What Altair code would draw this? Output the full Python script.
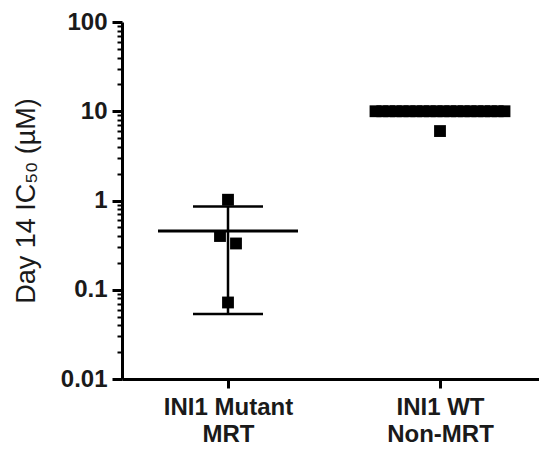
import json
import altair as alt
import pandas as pd

# ---------------- data ----------------
GROUPS = ["INI1 Mutant MRT", "INI1 WT Non-MRT"]
GROUP_LABELS = [["INI1 Mutant", "MRT"], ["INI1 WT", "Non-MRT"]]
MUTANT_IC50 = [1.02, 0.40, 0.33, 0.072]
WT_IC50 = [10, 10, 10, 10, 10, 10, 10, 10, 10, 10,
           10, 10, 10, 10, 10, 10, 10, 10, 10, 10, 6.0]
MAJOR_TICKS = [0.01, 0.1, 1, 10, 100]
MINOR_MULTIPLIERS = [2, 3, 4, 5, 6, 7, 8, 9]
Y_TITLE = "Day 14 IC\u2085\u2080 (\u00b5M)"

rows = []
for gi, vals in enumerate([MUTANT_IC50, WT_IC50]):
    for k, v in enumerate(vals):
        rows.append({"group": GROUPS[gi], "gidx": gi + 1, "order": k, "ic50": v})
df = pd.DataFrame(rows)

y_values = list(MAJOR_TICKS)
for t in MAJOR_TICKS[:-1]:
    for m in MINOR_MULTIPLIERS:
        y_values.append(round(t * m, 6))
y_values.sort()

# ---------------- layout ----------------
W, H = 417, 357
UNIT = 212.0            # px per x unit
X_MAX = 0.5 + W / UNIT
MEAN_HALF = 70 / UNIT
CAP_HALF = 35 / UNIT
FONT = "Liberation Sans"
TXT = "#1a1a1a"

is_major = "abs(log(datum.value)/LN10 - round(log(datum.value)/LN10)) < 0.001"
x_label_expr = (f"datum.value == 1 ? {json.dumps(GROUP_LABELS[0])} : "
                f"(datum.value == 2 ? {json.dumps(GROUP_LABELS[1])} : '')")

xscale = alt.Scale(domain=[0.5, X_MAX], nice=False, zero=False)
yscale = alt.Scale(type="log", domain=[0.01, 100], nice=False)

xaxis = alt.Axis(values=[1, 2], labelExpr=x_label_expr, grid=False,
                 domainWidth=3, domainColor="black", tickColor="black",
                 tickWidth=3, tickSize=9, labelFont=FONT, labelFontSize=24,
                 labelFontWeight="bold", labelColor=TXT, labelPadding=7,
                 labelLineHeight=27, labelOverlap=False, title="")
yaxis = alt.Axis(values=y_values, labelExpr=f"({is_major}) ? datum.label : ''",
                 format="~g", grid=False, domainWidth=3, domainColor="black",
                 tickColor="black",
                 tickSize={"condition": {"test": is_major, "value": 10}, "value": 5},
                 tickWidth={"condition": {"test": is_major, "value": 3}, "value": 2},
                 labelFont=FONT, labelFontSize=24, labelFontWeight="bold",
                 labelColor=TXT, labelPadding=5, labelOverlap=False,
                 title=Y_TITLE, titleFont=FONT, titleFontSize=27,
                 titleFontWeight="normal", titleColor=TXT, titlePadding=20)

base = alt.Chart(df)

points = base.transform_calculate(
    bin="round(log(datum.ic50)/LN10*5)"
).transform_window(
    rank="row_number()", groupby=["group", "bin"], sort=[alt.SortField("order")]
).transform_joinaggregate(
    n="count()", groupby=["group", "bin"]
).transform_calculate(
    pos=f"datum.gidx + (datum.rank - (datum.n + 1) / 2) * min(16, 129 / max(datum.n - 1, 1)) / {UNIT}"
).mark_point(shape="square", filled=True, size=140, color="black", opacity=1).encode(
    x=alt.X("pos:Q", scale=xscale, axis=xaxis, title=""),
    y=alt.Y("ic50:Q", scale=yscale, axis=yaxis, title=Y_TITLE),
)

stats = base.transform_aggregate(
    mean="mean(ic50)", sd="stdev(ic50)", groupby=["group", "gidx"]
).transform_calculate(
    lo="datum.mean - datum.sd",
    hi="datum.mean + datum.sd",
    mx1=f"datum.gidx - {MEAN_HALF}",
    mx2=f"datum.gidx + {MEAN_HALF}",
    cx1=f"datum.gidx - {CAP_HALF}",
    cx2=f"datum.gidx + {CAP_HALF}",
)

mean_rule = stats.mark_rule(color="black", strokeWidth=3).encode(
    x=alt.X("mx1:Q", scale=xscale, axis=xaxis, title=""), x2="mx2:Q",
    y=alt.Y("mean:Q", scale=yscale, axis=yaxis, title=Y_TITLE),
)
err_line = stats.mark_rule(color="black", strokeWidth=2.5).encode(
    x=alt.X("gidx:Q", scale=xscale, axis=xaxis, title=""),
    y=alt.Y("lo:Q", scale=yscale, axis=yaxis, title=Y_TITLE), y2="hi:Q",
)
cap_hi = stats.mark_rule(color="black", strokeWidth=2.5).encode(
    x=alt.X("cx1:Q", scale=xscale, axis=xaxis, title=""), x2="cx2:Q",
    y=alt.Y("hi:Q", scale=yscale, axis=yaxis, title=Y_TITLE),
)
cap_lo = stats.mark_rule(color="black", strokeWidth=2.5).encode(
    x=alt.X("cx1:Q", scale=xscale, axis=xaxis, title=""), x2="cx2:Q",
    y=alt.Y("lo:Q", scale=yscale, axis=yaxis, title=Y_TITLE),
)

chart = alt.layer(mean_rule, err_line, cap_hi, cap_lo, points).properties(
    width=W, height=H,
    autosize=alt.AutoSizeParams(type="none"),
    padding={"left": 114, "top": 14, "right": 0, "bottom": 68},
    background="white",
).configure_view(strokeWidth=0)

chart.save("out.html", embed_options={"renderer": "svg", "actions": False})
